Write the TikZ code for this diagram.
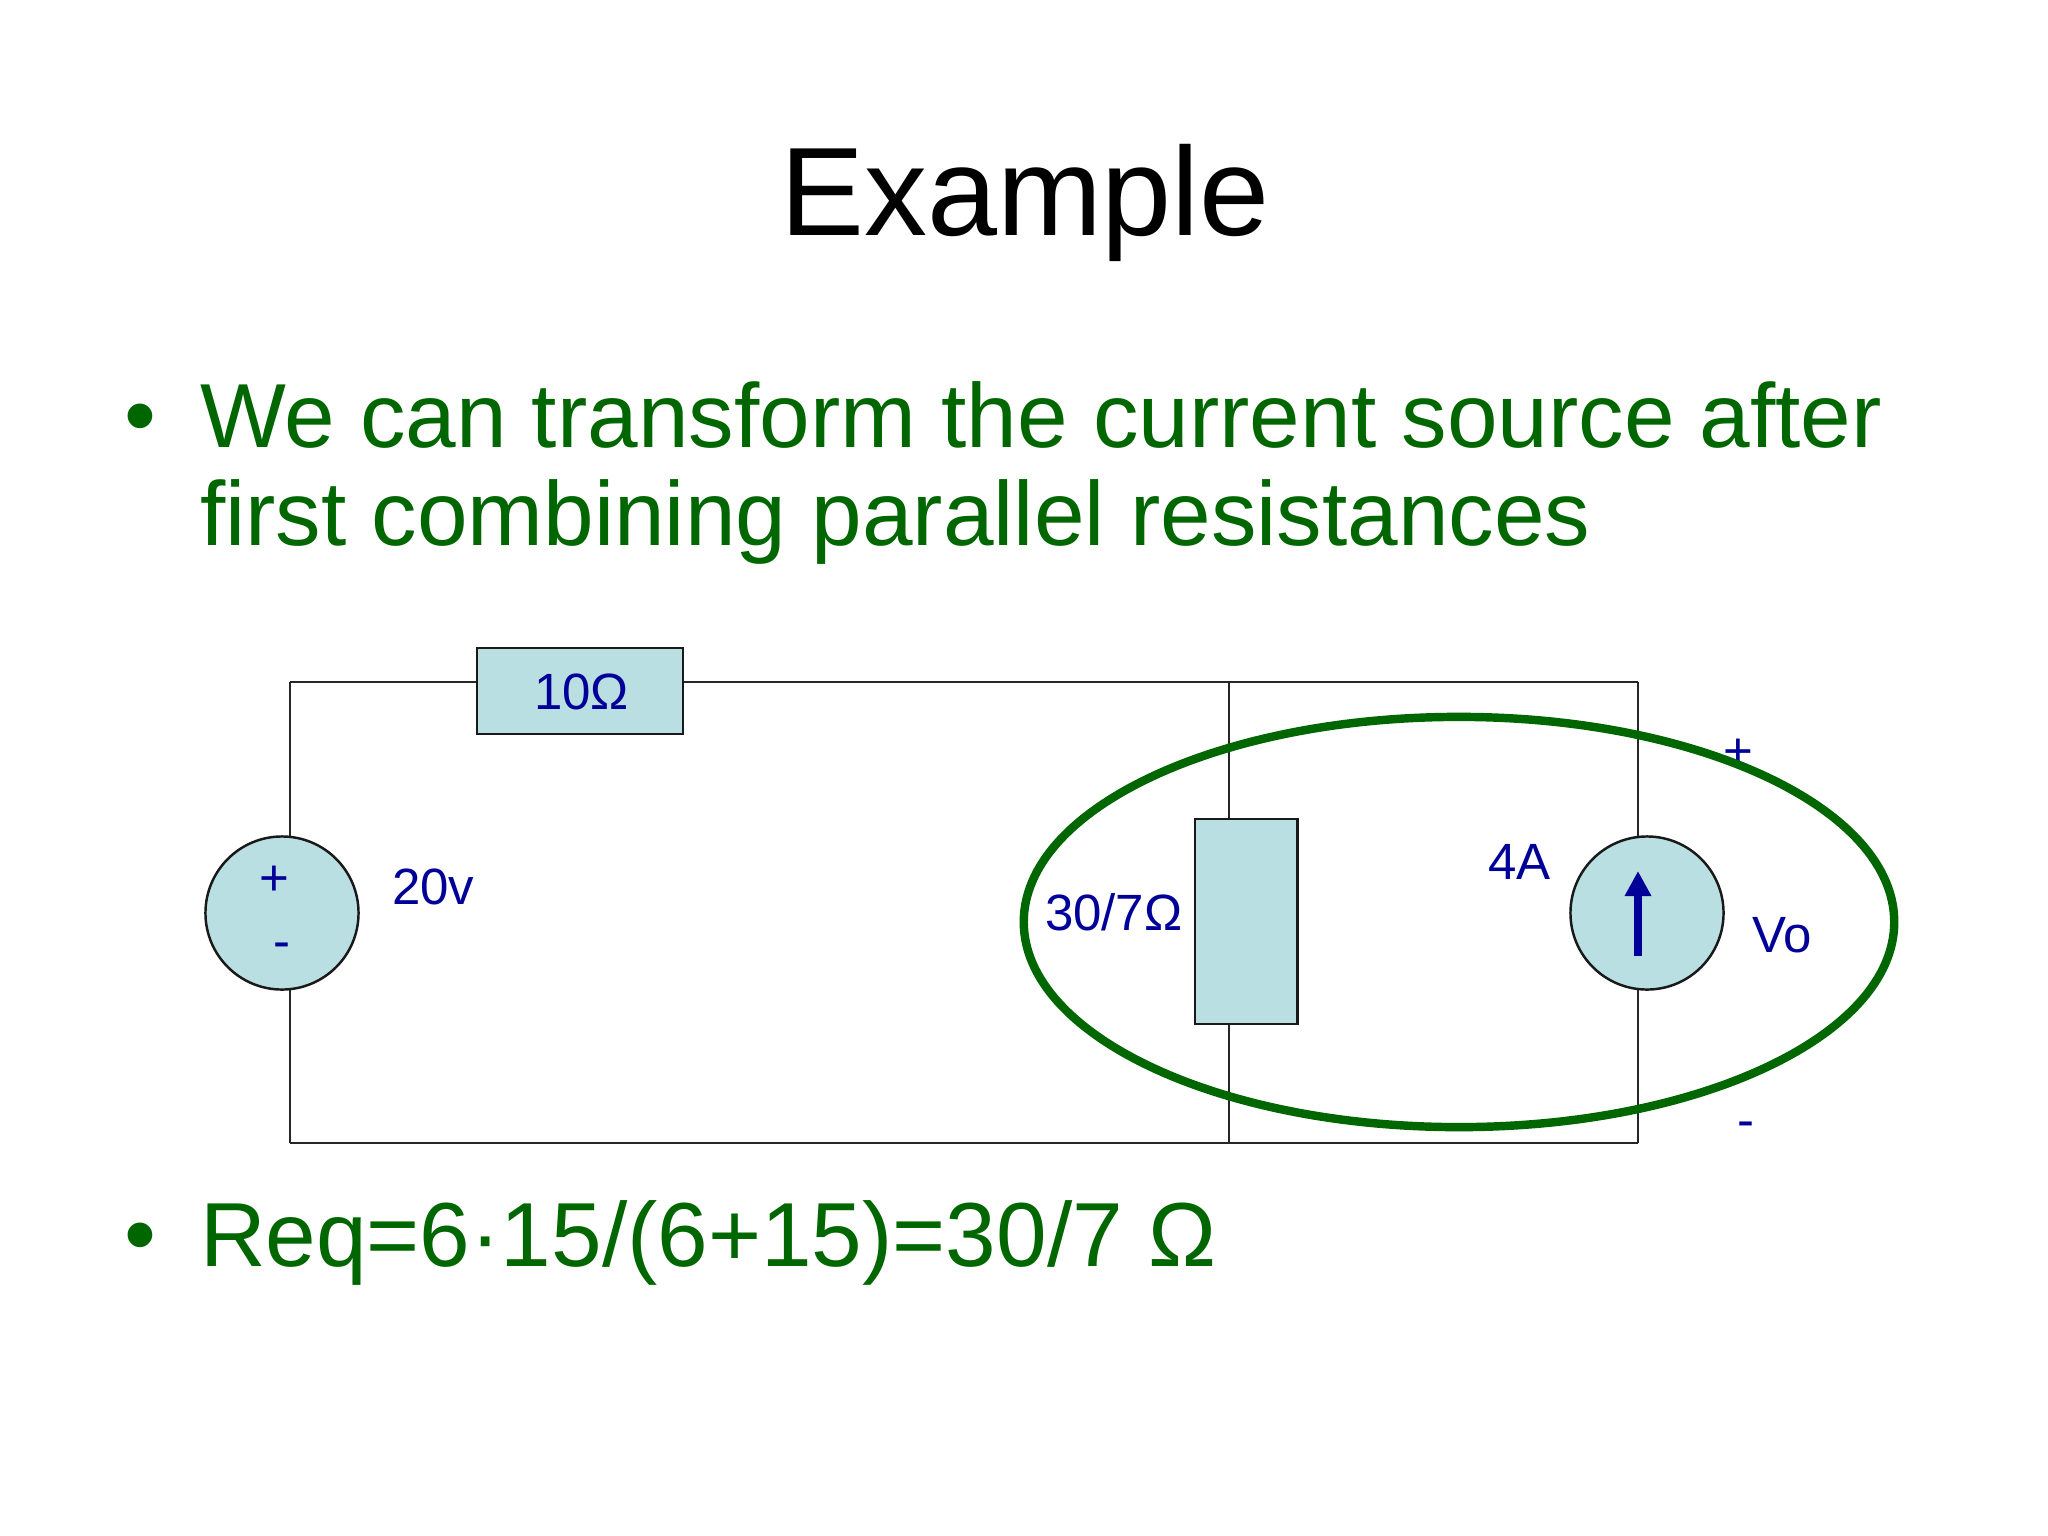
\documentclass[tikz,border=0pt]{standalone}
\usepackage{fontspec}
\setmainfont{Liberation Sans}
\usetikzlibrary{backgrounds,arrows.meta,shapes.geometric}
\definecolor{bodygreen}{HTML}{006600}
\definecolor{labelblue}{HTML}{000099}
\definecolor{partfill}{HTML}{B9DFE2}
\newcommand{\pxfont}[1]{\fontsize{#1}{#1}\selectfont}
\tikzset{
  x=0.01cm, y=-0.01cm,
  every node/.style={inner sep=0pt, outer sep=0pt},
  wire/.style={draw=black!85, line width=0.6pt},
  resbox/.style={rectangle, draw=black!90, fill=partfill, line width=0.7pt},
  srcdisc/.style={circle, draw=black!90, fill=partfill, line width=0.7pt, minimum size=1.53cm},
  lbl/.style={text=labelblue, font=\pxfont{14.5}, anchor=base west},
  sign/.style={text=labelblue, font=\pxfont{14.5}, anchor=center},
  bodytext/.style={text=bodygreen, font=\pxfont{25.87}, anchor=base west},
  titletext/.style={text=black, font=\pxfont{35.8}, anchor=base},
}
\begin{document}
\begin{tikzpicture}
\useasboundingbox (0,0) rectangle (2048,1536);
% text
\node[titletext] (title) at (1025,235) {Example};
\node[bodytext] (b1) at (124,446) {•};
\node[bodytext] (t1a) at (200,447) {We can transform the current source after};
\node[bodytext] (t1b) at (200,545) {first combining parallel resistances};
\node[bodytext] (b2) at (124,1265) {•};
\node[bodytext] (t2) at (200,1266) {Req=6·15/(6+15)=30/7 Ω};
% corners
\coordinate (tl) at (290,682);
\coordinate (bl) at (290,1143);
\coordinate (tm) at (1229,682);
\coordinate (bm) at (1229,1143);
\coordinate (tr) at (1638,682);
\coordinate (br) at (1638,1143);
% parts
\node[resbox, minimum width=2.06cm, minimum height=0.86cm] (r10) at (580,691) {};
\node[resbox, minimum width=1.025cm, minimum height=2.05cm] (r30) at (1246,921.5) {};
\node[srcdisc] (vs) at (282,913) {};
\node[srcdisc] (is) at (1647,913) {};
% wires
\begin{scope}[on background layer]
\fill[white] (0,0) rectangle (2048,1536);
\draw[wire] (tl) -- (r10.west |- tl);
\draw[wire] (r10.east |- tl) -- (tm) -- (tr);
\draw[wire] (tl) -- (tl |- vs.center);
\draw[wire] (bl) -- (tl |- vs.center);
\draw[wire] (bl) -- (bm) -- (br);
\draw[wire] (tm) -- (tm |- r30.north);
\draw[wire] (bm) -- (tm |- r30.south);
\draw[wire] (tr) -- (tr |- is.center);
\draw[wire] (br) -- (tr |- is.center);
\end{scope}
% labels
\node[lbl] (l10) at (534,709) {10Ω};
\node[lbl] (l20) at (392,904) {20v};
\node[sign] (vp) at (274,881) {+};
\node[sign] (vm) at (282,951) {-};
\node[lbl] (l30) at (1045,930) {30/7Ω};
\node[lbl] (l4) at (1488,879) {4A};
\node[lbl] (lvo) at (1752,952) {Vo};
\node[sign] (op) at (1738,754) {+};
\node[sign] (om) at (1746,1130) {-};
% current arrow
\coordinate (arrowtail) at (1638,956);
\coordinate (arrowhead) at (1638,871);
\draw[labelblue, line width=2.3pt, -{Triangle[length=0.25cm,width=0.25cm]}] (arrowtail) -- (arrowhead);
% highlight ring
\node[ellipse, minimum width=8.7cm, minimum height=4.1cm, draw=bodygreen, line width=2.4pt] (ring) at (1459,922) {};
\end{tikzpicture}
\end{document}
